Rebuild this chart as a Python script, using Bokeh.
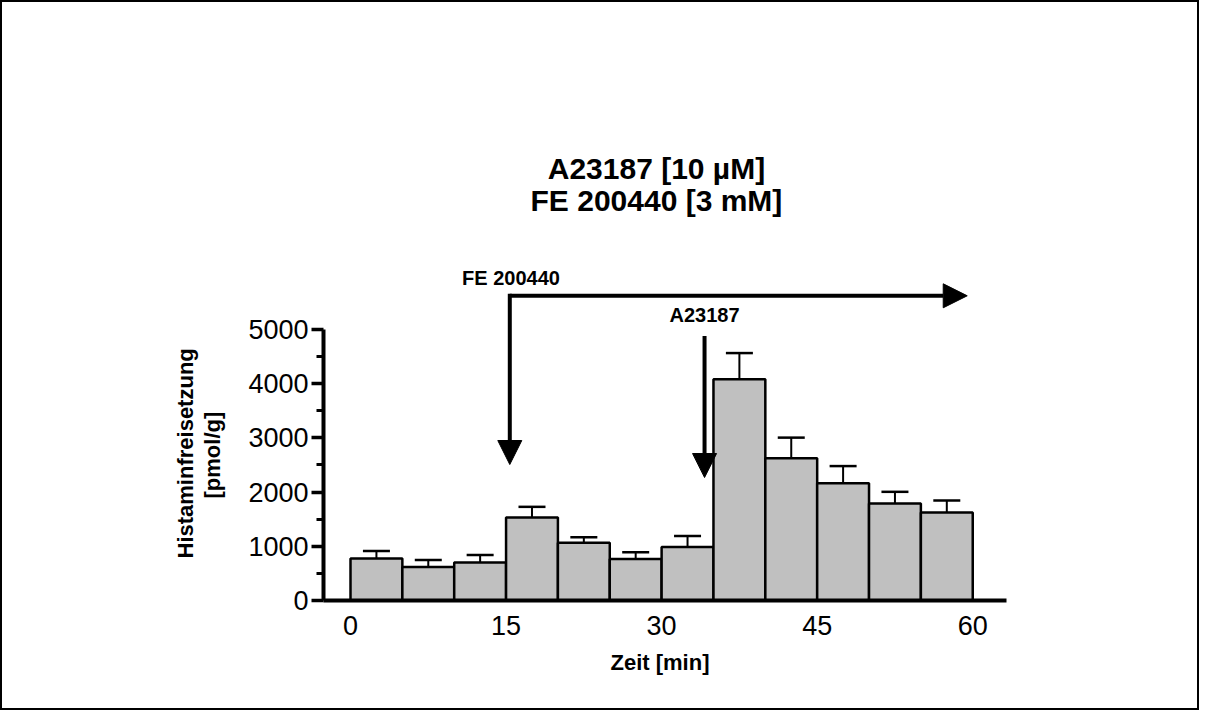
from bokeh.plotting import figure
from bokeh.models import (ColumnDataSource, Range1d, FixedTicker, Whisker, TeeHead,
                          Arrow, NormalHead, Label, Title)
from bokeh.embed import file_html
from bokeh.resources import INLINE

# ---- data ----
times = [0, 5, 10, 15, 20, 25, 30, 35, 40, 45, 50, 55]          # start of each 5-min fraction
means = [775, 620, 700, 1530, 1065, 765, 985, 4080, 2625, 2165, 1790, 1625]
errors = [140, 125, 138, 198, 100, 125, 205, 485, 380, 315, 215, 220]
x_ticks = [0, 15, 30, 45, 60]
y_ticks = [0, 1000, 2000, 3000, 4000, 5000]
y_minor = [500, 1500, 2500, 3500, 4500]
title_lines = ["A23187 [10 µM]", "FE 200440 [3 mM]"]
x_title = "Zeit [min]"
y_title_lines = ["Histaminfreisetzung", "[pmol/g]"]
fe_label = "FE 200440"
fe_time = 15.36          # min, addition of FE 200440
a_label = "A23187"
a_time = 34.14           # min, addition of A23187

FONT = "Liberation Sans"
W, H = 1199, 710

centers = [t + 2.5 for t in times]
src = ColumnDataSource(dict(x=centers, top=means,
                            upper=[m + e for m, e in zip(means, errors)]))

p = figure(width=W, height=H, output_backend="svg", toolbar_location=None,
           x_range=Range1d(-2.604, 82.06), y_range=Range1d(0, 11033),
           min_border_left=321, min_border_right=0, min_border_top=0,
           min_border_bottom=112)
p.styles = {"border": "2px solid black"}
p.xgrid.visible = False
p.ygrid.visible = False
p.outline_line_color = None
p.background_fill_color = "white"
p.border_fill_color = "white"

p.vbar(x="x", top="top", bottom=0, width=5, source=src,
       fill_color="#C0C0C0", line_color="black", line_width=2.5)

p.add_layout(Whisker(source=src, base="x", lower="top", upper="upper",
                     dimension="height", line_width=2, line_color="black",
                     upper_head=TeeHead(size=27, line_width=2.5, line_color="black"),
                     lower_head=None))

# ---- axes ----
xa = p.xaxis[0]
xa.ticker = FixedTicker(ticks=x_ticks)
xa.bounds = (-2.604, 63.3)
xa.axis_line_width = 4
xa.major_tick_out = 0
xa.major_tick_in = 0
xa.minor_tick_out = 0
xa.minor_tick_in = 0
xa.major_label_text_font = FONT
xa.major_label_text_font_size = "27px"
xa.major_label_text_color = "black"
xa.major_label_standoff = 15

ya = p.yaxis[0]
ya.ticker = FixedTicker(ticks=y_ticks, minor_ticks=y_minor)
ya.bounds = (0, 5000)
ya.axis_line_width = 4
ya.major_tick_out = 12
ya.major_tick_in = 0
ya.major_tick_line_width = 3.5
ya.minor_tick_out = 7
ya.minor_tick_in = 0
ya.minor_tick_line_width = 3
ya.major_label_text_font = FONT
ya.major_label_text_font_size = "27px"
ya.major_label_text_color = "black"
ya.major_label_standoff = 3

# ---- axis titles (side panels) ----
p.add_layout(Title(text=x_title, align="left", offset=287, standoff=20,
                   text_font=FONT, text_font_size="22px", text_font_style="bold",
                   text_color="black"), "below")
# empty spacer panel between the tick labels and the y title
p.add_layout(Title(text=" ", align="left", offset=0, standoff=8,
                   text_font=FONT, text_font_size="10px", text_color="white"), "left")
p.add_layout(Title(text=y_title_lines[1], align="left", offset=102, standoff=0,
                   text_font=FONT, text_font_size="22px", text_font_style="bold",
                   text_color="black"), "left")
p.add_layout(Title(text=y_title_lines[0], align="left", offset=42, standoff=0,
                   text_font=FONT, text_font_size="22px", text_font_style="bold",
                   text_color="black"), "left")

# ---- title and treatment annotations ----
p.add_layout(Label(x=29.5, y=7967, text=title_lines[0], text_align="center",
                   text_baseline="alphabetic", text_font=FONT, text_font_size="30px",
                   text_font_style="bold", text_color="black"))
p.add_layout(Label(x=29.5, y=7384, text=title_lines[1], text_align="center",
                   text_baseline="alphabetic", text_font=FONT, text_font_size="30px",
                   text_font_style="bold", text_color="black"))

p.add_layout(Label(x=fe_time + 0.12, y=5941, text=fe_label, text_align="center",
                   text_baseline="alphabetic", text_font=FONT, text_font_size="20px",
                   text_font_style="bold", text_color="black"))
p.add_layout(Arrow(x_start=fe_time, y_start=5622, x_end=59.47, y_end=5622,
                   line_width=4, line_color="black",
                   end=NormalHead(size=24, fill_color="black", line_color="black")))
p.add_layout(Arrow(x_start=fe_time, y_start=5660, x_end=fe_time, y_end=2509,
                   line_width=4, line_color="black",
                   end=NormalHead(size=24, fill_color="black", line_color="black")))

p.add_layout(Label(x=a_time, y=5264, text=a_label, text_align="center",
                   text_baseline="alphabetic", text_font=FONT, text_font_size="20px",
                   text_font_style="bold", text_color="black"))
p.add_layout(Arrow(x_start=a_time, y_start=4878, x_end=a_time, y_end=2269,
                   line_width=4, line_color="black",
                   end=NormalHead(size=24, fill_color="black", line_color="black")))

open("out.html", "w").write(file_html(p, INLINE))
